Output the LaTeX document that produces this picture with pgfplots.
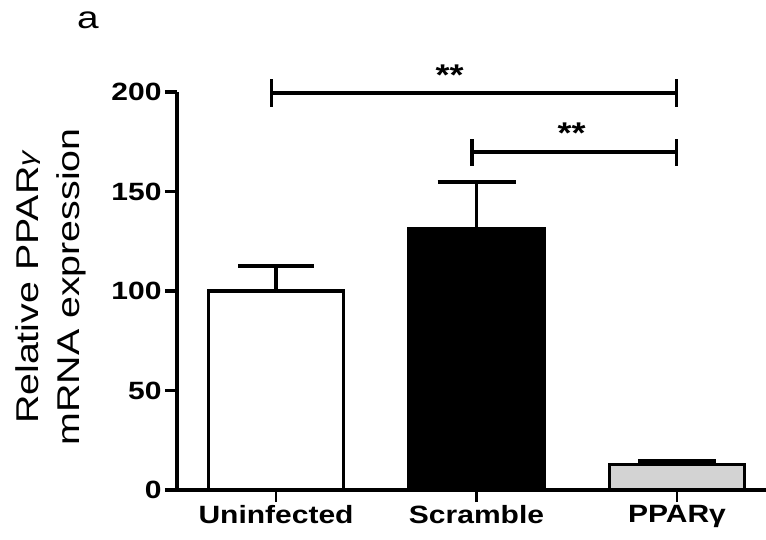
\documentclass[border=0pt]{standalone}
\usepackage{fontspec}
\setmainfont{Liberation Sans}
\newfontfamily\tickfont[FakeStretch=1.2]{Liberation Sans}
\newfontfamily\labfont[FakeStretch=1.25]{Liberation Sans}
\usepackage{pgfplots}
\pgfplotsset{compat=1.18}
\definecolor{lightbar}{RGB}{211,211,211}

\begin{document}
\begin{tikzpicture}
\begin{axis}[
    at={(177pt,49pt)}, anchor=south west,
    scale only axis, width=589pt, height=398pt,
    xmin=-0.494, xmax=2.444, ymin=0, ymax=200,
    axis x line*=bottom, axis y line*=left,
    axis line style={line width=3.5pt},
    clip=false,
    xtick={0,1,2},
    xticklabels={Uninfected, Scramble, PPARγ},
    ytick={0,50,100,150,200},
    tick align=outside,
    major tick length=12pt,
    tick style={line width=3.5pt, black},
    x tick style={line width=2.5pt},
    ticklabel style={font=\tickfont\bfseries\fontsize{25}{28}\selectfont},
    /pgf/number format/assume math mode=true,
    every axis plot/.append style={line width=3.5pt},
]
  \addplot[ybar, bar width=0.675, bar shift=0pt, draw=black, fill=white,
    error bars/.cd, y dir=plus, y explicit,
    error bar style={line width=3.5pt},
    error mark options={rotate=90, mark size=38pt, line width=3.5pt}]
    coordinates {(0,100) +- (0,12.5)};
  \addplot[ybar, bar width=0.675, bar shift=0pt, draw=black, fill=black,
    error bars/.cd, y dir=plus, y explicit,
    error bar style={line width=3.5pt},
    error mark options={rotate=90, mark size=39pt, line width=3.5pt}]
    coordinates {(1,131.4) +- (0,23.4)};
  \addplot[ybar, bar width=0.675, bar shift=0pt, draw=black, fill=lightbar,
    error bars/.cd, y dir=plus, y explicit,
    error bar style={line width=3.5pt},
    error mark options={rotate=90, mark size=39pt, line width=3.5pt}]
    coordinates {(2,12.8) +- (0,1.8)};

  % significance brackets
  \draw[line width=3.5pt] (axis cs:-0.022,199.5) -- (axis cs:1.997,199.5);
  \draw[line width=3.5pt] (axis cs:-0.022,192.7) -- (axis cs:-0.022,206.3);
  \draw[line width=3.5pt] (axis cs:1.997,192.7) -- (axis cs:1.997,206.3);
  \draw[line width=3.5pt] (axis cs:0.978,169.8) -- (axis cs:1.997,169.8);
  \draw[line width=3.5pt] (axis cs:0.978,163) -- (axis cs:0.978,176.6);
  \draw[line width=3.5pt] (axis cs:1.997,163) -- (axis cs:1.997,176.6);
  \node[font=\tickfont\bfseries\fontsize{30}{32}\selectfont] at (axis cs:0.866,208.5) {**};
  \node[font=\tickfont\bfseries\fontsize{30}{32}\selectfont] at (axis cs:1.475,179.5) {**};
\end{axis}
\node[rotate=90, align=center, inner sep=0pt,
  font=\labfont\fontsize{31.5}{41}\selectfont] at (51pt,252pt)
  {Relative PPAR\raisebox{3pt}{\fontsize{24}{24}\selectfont\textit{γ}}\\mRNA expression};
\node[font=\labfont\fontsize{31}{34}\selectfont] at (88pt,519pt) {a};
\pgfresetboundingbox
\path[use as bounding box] (0,0) rectangle (766pt,539pt);
\end{tikzpicture}
\end{document}
